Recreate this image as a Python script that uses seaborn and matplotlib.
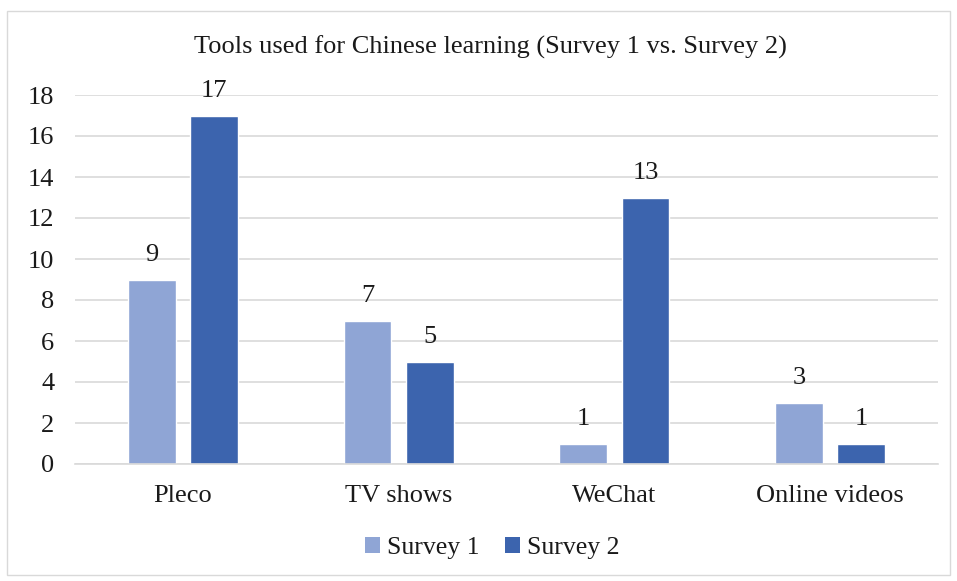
import matplotlib
matplotlib.use("Agg")
import matplotlib.pyplot as plt
import matplotlib.patches as mpatches
import seaborn as sns
import pandas as pd

categories = ["Pleco", "TV shows", "WeChat", "Online videos"]
survey1 = [9, 7, 1, 3]
survey2 = [17, 5, 13, 1]
series_names = ["Survey 1", "Survey 2"]
yticks = [0, 2, 4, 6, 8, 10, 12, 14, 16, 18]
title = "Tools used for Chinese learning (Survey 1 vs. Survey 2)"

df = pd.DataFrame({
    "Tool": categories * 2,
    "Count": survey1 + survey2,
    "Survey": [series_names[0]] * len(categories) + [series_names[1]] * len(categories),
})

sns.set_theme(style="white")
plt.rcParams["font.family"] = ["Liberation Serif", "DejaVu Serif"]

W, H = 957, 581
fig = plt.figure(figsize=(W / 100, H / 100), dpi=100)
fig.patch.set_facecolor("white")
fig.add_artist(mpatches.Rectangle((7 / W, 1 - 575 / H), (950 - 7) / W, (575 - 11) / H,
                                  transform=fig.transFigure, fill=False,
                                  edgecolor="#D9D9D9", linewidth=1.0))

left, right, top, bottom = 75, 938, 95, 464
ax = fig.add_axes([left / W, 1 - bottom / H, (right - left) / W, (bottom - top) / H])

colors = ["#8FA5D5", "#3C64AE"]
sns.barplot(data=df, x="Tool", y="Count", hue="Survey", palette=colors,
            width=0.575, gap=0.23, ax=ax, legend=False, saturation=1)

for cont in ax.containers:
    ax.bar_label(cont, fmt="%d", padding=10, fontsize=19, color="#1a1a1a")

ax.set_ylim(0, 18)
ax.set_xlim(-0.5, len(categories) - 0.5)
ax.set_yticks(yticks)
ax.set_yticklabels([str(v) for v in yticks], fontsize=19, color="#1a1a1a")
ax.tick_params(axis="x", labelsize=19, colors="#1a1a1a", length=0, pad=15)
ax.tick_params(axis="y", length=0, pad=15)
ax.set_xlabel("")
ax.set_ylabel("")
ax.yaxis.grid(True, color="#D9D9D9", linewidth=1.2)
ax.set_axisbelow(True)
for s in ["top", "right", "left"]:
    ax.spines[s].set_visible(False)
ax.spines["bottom"].set_color("#D9D9D9")
ax.spines["bottom"].set_linewidth(1.2)

fig.text(490 / W, 1 - 47 / H, title, ha="center", va="center",
         fontsize=19, color="#1a1a1a")

handles = [mpatches.Patch(facecolor=c, edgecolor="none", label=n) for c, n in zip(colors, series_names)]
fig.legend(handles=handles, loc="center", bbox_to_anchor=(492 / W, 1 - 548 / H), ncol=2,
           frameon=False, fontsize=18.5, handlelength=0.6, handleheight=0.6,
           handletextpad=0.25, columnspacing=1.0, labelcolor="#1a1a1a")

fig.savefig("out.png", dpi=100, facecolor="white")
